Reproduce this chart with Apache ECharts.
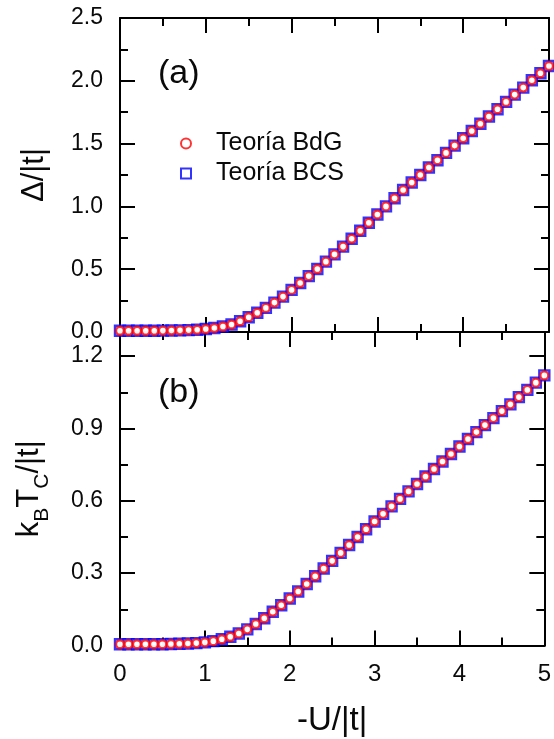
<!DOCTYPE html>
<html><head><meta charset="utf-8">
<script src="https://cdn.jsdelivr.net/npm/echarts@6/dist/echarts.min.js"></script>
<style>html,body{margin:0;padding:0;background:#fff}#c{width:554px;height:739px}</style>
</head><body><div id="c"></div>
<script>
const uValues = [0.0,0.1,0.2,0.3,0.4,0.5,0.6,0.7,0.8,0.9,1.0,1.1,1.2,1.3,1.4,1.5,1.6,1.7,1.8,1.9,2.0,2.1,2.2,2.3,2.4,2.5,2.6,2.7,2.8,2.9,3.0,3.1,3.2,3.3,3.4,3.5,3.6,3.7,3.8,3.9,4.0,4.1,4.2,4.3,4.4,4.5,4.6,4.7,4.8,4.9,5.0];
const deltaBdG = [0.010,0.010,0.010,0.010,0.010,0.011,0.012,0.013,0.015,0.018,0.024,0.032,0.044,0.060,0.085,0.118,0.153,0.192,0.234,0.282,0.335,0.390,0.445,0.502,0.560,0.618,0.680,0.742,0.806,0.870,0.936,1.000,1.065,1.130,1.190,1.250,1.310,1.368,1.426,1.484,1.542,1.600,1.658,1.716,1.774,1.832,1.890,1.946,2.004,2.060,2.118];
const deltaBCS = [0.010,0.010,0.010,0.010,0.010,0.011,0.012,0.013,0.015,0.018,0.024,0.032,0.044,0.060,0.085,0.118,0.153,0.192,0.234,0.282,0.335,0.390,0.445,0.502,0.560,0.618,0.680,0.742,0.806,0.870,0.936,1.000,1.065,1.130,1.190,1.250,1.310,1.368,1.426,1.484,1.542,1.600,1.658,1.716,1.774,1.832,1.890,1.946,2.004,2.060,2.118];
const tcBdG = [0.005,0.005,0.005,0.005,0.005,0.005,0.006,0.007,0.008,0.010,0.013,0.018,0.026,0.036,0.050,0.067,0.089,0.113,0.140,0.167,0.195,0.224,0.255,0.287,0.319,0.351,0.384,0.417,0.450,0.482,0.514,0.546,0.577,0.608,0.639,0.670,0.701,0.732,0.763,0.794,0.825,0.856,0.885,0.914,0.943,0.972,1.000,1.030,1.060,1.090,1.120];
const tcBCS = [0.005,0.005,0.005,0.005,0.005,0.005,0.006,0.007,0.008,0.010,0.013,0.018,0.026,0.036,0.050,0.067,0.089,0.113,0.140,0.167,0.195,0.224,0.255,0.287,0.319,0.351,0.384,0.417,0.450,0.482,0.514,0.546,0.577,0.608,0.639,0.670,0.701,0.732,0.763,0.794,0.825,0.856,0.885,0.914,0.943,0.972,1.000,1.030,1.060,1.090,1.120];
const xTicks = [0,1,2,3,4,5];
const deltaTicks = [0.0,0.5,1.0,1.5,2.0,2.5];
const tcTicks = [0.0,0.3,0.6,0.9,1.2];
const tcMinorTicks = [0.15,0.45,0.75,1.05];
const seriesNames = ['Teoría BdG','Teoría BCS'];
const panelLabels = ['(a)','(b)'];

const FONT = 'Liberation Sans';
const TXT = '#0a0a0a';
const chart = echarts.init(document.getElementById('c'), null, {renderer:'canvas'});
const pair = (xs, ys) => xs.map((x, i) => [x, ys[i]]);
const axLine = {show:true, onZero:false, lineStyle:{color:'#000', width:2}};
const majTick = {show:true, inside:true, length:15, lineStyle:{color:'#000', width:2}};
const minTick = {show:true, splitNumber:2, length:8, lineStyle:{color:'#000', width:2}};
const noLabel = {show:false};
const lab = {color:TXT, fontSize:23, fontFamily:FONT, margin:17};

function xAx(grid, pos, labels, name) {
  return {type:'value', gridIndex:grid, position:pos, min:0, max:5, interval:1,
    axisLine:axLine, axisTick:majTick, minorTick:minTick, splitLine:{show:false},
    axisLabel: labels ? Object.assign({}, lab, {fontSize:24, margin:17}) : noLabel,
    name: name || '', nameLocation:'middle', nameGap:59,
    nameTextStyle:{fontSize:33, fontFamily:FONT, color:TXT}};
}

const squareStyle = {color:'#fff', borderColor:'#0000ff', borderWidth:2.4};
const circleStyle = {color:'#fff', borderColor:'#ff0000', borderWidth:2.4};

chart.setOption({
  backgroundColor:'#fff',
  animation:false,
  grid:[{left:120, top:18, width:429, height:314},
        {left:120, top:332, width:429, height:313.5}],
  legend:{orient:'vertical', left:175, top:126, itemWidth:10, itemHeight:10, itemGap:5,
    data:seriesNames, selectedMode:false,
    textStyle:{fontSize:25, fontFamily:FONT, color:TXT, padding:[0,0,0,20]}},
  xAxis:[xAx(0,'bottom',false), xAx(0,'top',false), xAx(1,'bottom',true,'-U/|t|'), xAx(1,'top',false)],
  yAxis:[
    {type:'value', gridIndex:0, position:'left', min:0, max:2.5, interval:0.5,
     axisLine:axLine, axisTick:majTick, minorTick:minTick, splitLine:{show:false},
     axisLabel:Object.assign({}, lab, {formatter:v => v.toFixed(1)}),
     name:'Δ/|t|', nameLocation:'middle', nameRotate:90, nameGap:70,
     nameTextStyle:{fontSize:31, fontFamily:FONT, color:TXT}},
    {type:'value', gridIndex:0, position:'right', min:0, max:2.5, interval:0.5,
     axisLine:axLine, axisTick:majTick, minorTick:minTick, splitLine:{show:false}, axisLabel:noLabel},
    {type:'value', gridIndex:1, position:'left', min:0, max:1.3, interval:0.3,
     axisLine:axLine, axisTick:Object.assign({customValues:tcTicks}, majTick), splitLine:{show:false},
     axisLabel:Object.assign({customValues:tcTicks, formatter:v => v.toFixed(1)}, lab),
     name:'{b|k}{s|B}{b|T}{s|C}{b|/|t|}', nameLocation:'middle', nameRotate:90, nameGap:67,
     nameTextStyle:{fontFamily:FONT, color:TXT, rich:{
       b:{fontSize:31, fontFamily:FONT, color:TXT, verticalAlign:'bottom', padding:[0,0,8,0]},
       s:{fontSize:21, fontFamily:FONT, color:TXT, verticalAlign:'bottom'}}}},
    {type:'value', gridIndex:1, position:'left', min:0, max:1.3,
     axisLine:axLine, axisTick:Object.assign({}, majTick, {customValues:tcMinorTicks, length:8}), splitLine:{show:false}, axisLabel:noLabel},
    {type:'value', gridIndex:1, position:'right', min:0, max:1.3,
     axisLine:axLine, axisTick:Object.assign({customValues:tcTicks}, majTick), splitLine:{show:false}, axisLabel:noLabel},
    {type:'value', gridIndex:1, position:'right', min:0, max:1.3,
     axisLine:axLine, axisTick:Object.assign({}, majTick, {customValues:tcMinorTicks, length:8}), splitLine:{show:false}, axisLabel:noLabel}
  ],
  graphic:[
    {type:'text', left:158, top:57, style:{text:panelLabels[0], fontSize:34, fontFamily:FONT, fill:TXT}},
    {type:'text', left:158, top:376, style:{text:panelLabels[1], fontSize:34, fontFamily:FONT, fill:TXT}}
  ],
  series:[
    {name:seriesNames[1], type:'scatter', xAxisIndex:0, yAxisIndex:0, symbol:'rect', symbolSize:10,
     itemStyle:squareStyle, data:pair(uValues, deltaBCS), z:2},
    {name:seriesNames[0], type:'scatter', xAxisIndex:0, yAxisIndex:0, symbol:'circle', symbolSize:8,
     itemStyle:circleStyle, data:pair(uValues, deltaBdG), z:3},
    {name:seriesNames[1], type:'scatter', xAxisIndex:2, yAxisIndex:2, symbol:'rect', symbolSize:10,
     itemStyle:squareStyle, data:pair(uValues, tcBCS), z:2},
    {name:seriesNames[0], type:'scatter', xAxisIndex:2, yAxisIndex:2, symbol:'circle', symbolSize:8,
     itemStyle:circleStyle, data:pair(uValues, tcBdG), z:3}
  ]
});
</script></body></html>
